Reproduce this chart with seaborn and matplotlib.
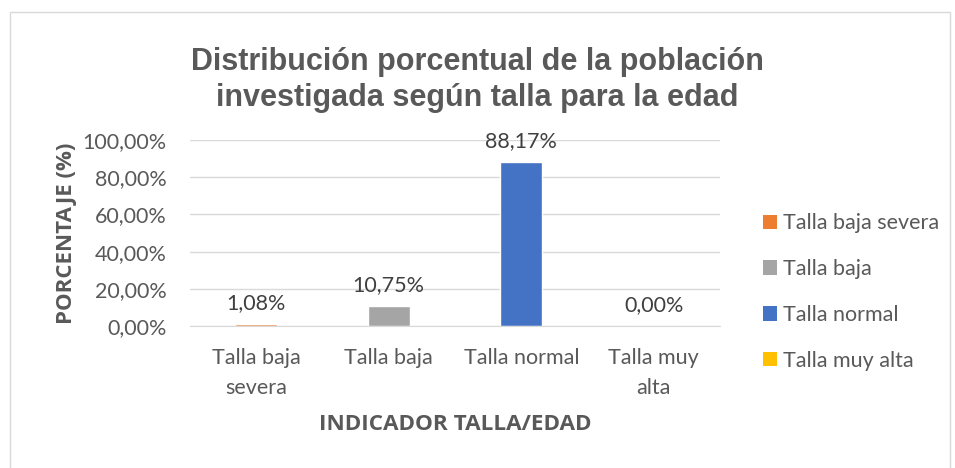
import pandas as pd
import seaborn as sns
import matplotlib.pyplot as plt
from matplotlib.patches import Rectangle, Patch

# Data
categorias = ["Talla baja severa", "Talla baja", "Talla normal", "Talla muy alta"]
etiquetas_x = ["Talla baja\nsevera", "Talla baja", "Talla normal", "Talla muy\nalta"]
porcentajes = [1.08, 10.75, 88.17, 0.00]
colores = ["#ED7D31", "#A5A5A5", "#4472C4", "#FFC000"]

df = pd.DataFrame({"categoria": categorias, "porcentaje": porcentajes})

sns.set_style("white")
plt.rcParams["font.family"] = ["Lato", "DejaVu Sans"]

gris = "#595959"

fig = plt.figure(figsize=(9.55, 4.68), dpi=100)
ax = fig.add_axes([190 / 955, 1 - 326 / 468, 530 / 955, 186 / 468])

sns.barplot(
    data=df,
    x="categoria",
    y="porcentaje",
    hue="categoria",
    palette=colores,
    saturation=1,
    dodge=False,
    width=0.32,
    legend=False,
    ax=ax,
)

ax.set_ylim(0, 100)
ax.set_xlim(-0.5, 3.5)
ax.set_yticks([0, 20, 40, 60, 80, 100])
ax.set_yticklabels([f"{v:.2f}%".replace(".", ",") for v in [0, 20, 40, 60, 80, 100]])
ax.set_xticks(range(4))
ax.set_xticklabels(etiquetas_x, linespacing=1.6)
ax.set_xticks([-0.5, 0.5, 1.5, 2.5, 3.5], minor=True)
ax.tick_params(axis="x", which="major", length=0, pad=16, labelsize=15.5, colors=gris)
ax.tick_params(axis="x", which="minor", length=8, width=1, color="#D9D9D9")
ax.tick_params(axis="y", length=0, pad=17, labelsize=15.5, colors=gris)

ax.grid(axis="y", color="#D9D9D9", linewidth=1)
ax.set_axisbelow(True)
for s in ["top", "right", "left"]:
    ax.spines[s].set_visible(False)
ax.spines["bottom"].set_color("#D9D9D9")

for i, v in enumerate(porcentajes):
    ax.annotate(f"{v:.2f}%".replace(".", ","), (i, v), xytext=(0, 8),
                textcoords="offset points", ha="center", va="bottom",
                fontsize=15.5, color="#404040")

ax.set_xlabel("INDICADOR TALLA/EDAD", fontsize=16.2, fontweight="bold",
              family="Open Sans", color=gris, labelpad=12)
ax.set_ylabel("PORCENTAJE (%)", fontsize=16, fontweight="bold",
              family="Open Sans", color=gris, labelpad=4)

fig.text(477 / 955, 1 - 80 / 468,
         "Distribución porcentual de la población\ninvestigada según talla para la edad",
         ha="center", va="center", fontsize=22, fontweight="bold", color=gris,
         family="Liberation Sans", linespacing=1.28)

handles = [Patch(facecolor=c, edgecolor="none") for c in colores]
fig.legend(handles, categorias, loc="center left",
           bbox_to_anchor=(763 / 955, 1 - 292 / 468), frameon=False,
           fontsize=15.5, labelcolor=gris, handlelength=0.65, handleheight=0.65,
           handletextpad=0.3, labelspacing=1.2, borderpad=0, borderaxespad=0)

fig.patches.append(Rectangle((10 / 955, -0.05), 940 / 955, 1.05 - 12 / 468,
                             transform=fig.transFigure, fill=False,
                             edgecolor="#D9D9D9", linewidth=1))

fig.savefig("out.png", dpi=100, facecolor="white")
